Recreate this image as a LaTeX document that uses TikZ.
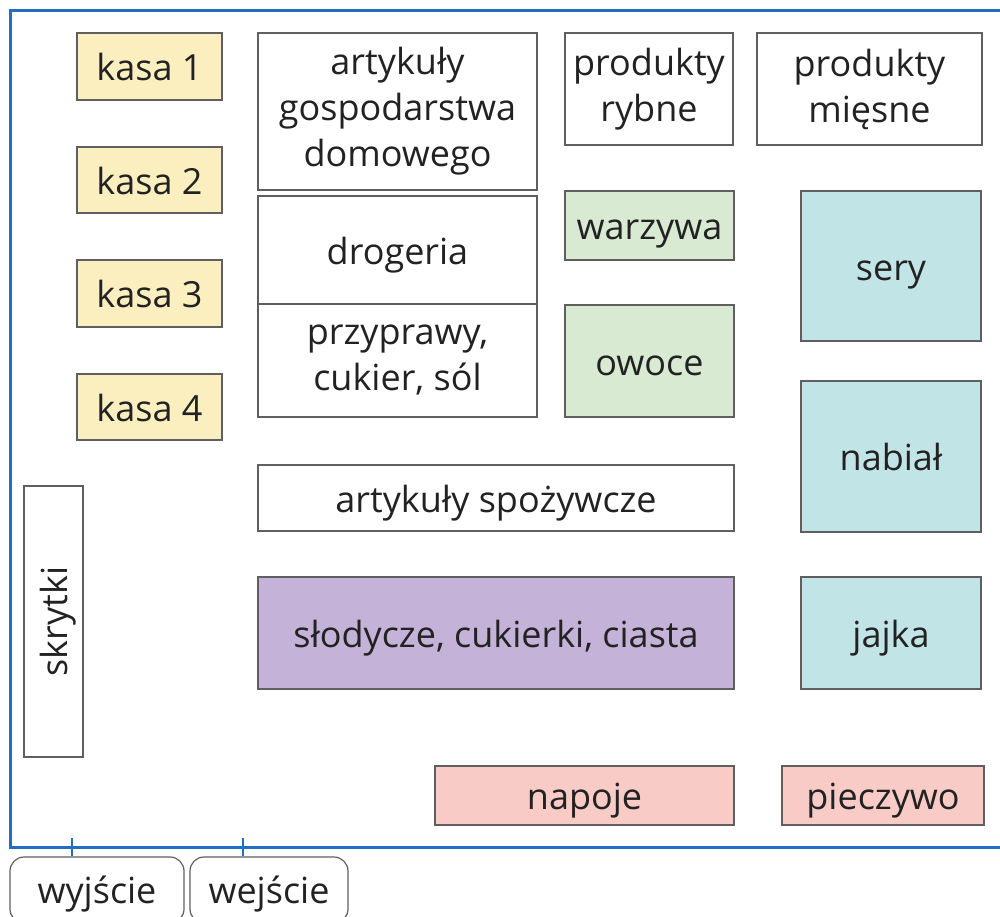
\documentclass[tikz,border=0pt]{standalone}
\usepackage{fontspec}
\setmainfont{Open Sans}
\usepackage{tikz}
\usetikzlibrary{positioning, calc}
\definecolor{kasafill}{HTML}{FCEFBF}
\definecolor{zielfill}{HTML}{D9EAD3}
\definecolor{nabfill}{HTML}{C1E4E6}
\definecolor{slodfill}{HTML}{C4B2D8}
\definecolor{napfill}{HTML}{F8CBC6}
\definecolor{ramka}{HTML}{5F5F5F}
\definecolor{sciana}{HTML}{1F6FC5}
\definecolor{tekst}{HTML}{222222}
\tikzset{
  pole/.style={rectangle, draw=ramka, line width=1.2pt, inner sep=0pt,
               align=center, text=tekst,
               font=\fontsize{36}{46}\selectfont},
  stoisko/.style={pole, text height=28pt, text depth=0pt},
  kasa/.style={stoisko, fill=kasafill},
  ziel/.style={stoisko, fill=zielfill},
  nab/.style={stoisko, fill=nabfill},
  slod/.style={stoisko, fill=slodfill},
  nap/.style={stoisko, fill=napfill},
  drzwi/.style={pole, rounded corners=14pt, text height=26pt, text depth=0pt},
  mur/.style={draw=sciana, line width=3pt},
}
\begin{document}
\begin{tikzpicture}[x=1pt, y=-1pt]
  \useasboundingbox (0,0) rectangle (1000,916);
  % kasy
  \node[kasa, minimum width=145, minimum height=67] (kasa1) at (149.5,66.5) {kasa 1};
  \node[kasa, minimum width=145, minimum height=66] (kasa2) at (149.5,180) {kasa 2};
  \node[kasa, minimum width=145, minimum height=67] (kasa3) at (149.5,293.5) {kasa 3};
  \node[kasa, minimum width=145, minimum height=66] (kasa4) at (149.5,407) {kasa 4};
  \node[stoisko, minimum width=271, minimum height=59, rotate=90] (skrytki) at (53.5,621.5) {skrytki};
  % srodek sklepu
  \node[pole, minimum width=279, minimum height=157] (agd) at (397.5,111.5) {artykuły\\gospodarstwa\\domowego};
  \node[stoisko, minimum width=279, minimum height=108] (drogeria) at (397.5,250) {drogeria};
  \node[pole, minimum width=279, minimum height=113] (przyprawy) at (397.5,360.5) {przyprawy,\\cukier, sól};
  \node[pole, minimum width=168, minimum height=112] (ryby) at (649,89) {produkty\\rybne};
  \node[pole, minimum width=225, minimum height=112] (mieso) at (869.5,89) {produkty\\mięsne};
  \node[ziel, minimum width=169, minimum height=69] (warzywa) at (649.5,225.5) {warzywa};
  \node[ziel, minimum width=169, minimum height=112] (owoce) at (649.5,361) {owoce};
  \node[nab, minimum width=180, minimum height=150] (sery) at (891,266) {sery};
  \node[nab, minimum width=180, minimum height=151] (nabial) at (891,456.5) {nabiał};
  \node[nab, minimum width=180, minimum height=112] (jajka) at (891,633) {jajka};
  \node[stoisko, minimum width=476, minimum height=66] (spozywcze) at (496,498) {artykuły spożywcze};
  \node[slod, minimum width=476, minimum height=112] (slodycze) at (496,633) {słodycze, cukierki, ciasta};
  \node[nap, minimum width=299, minimum height=59] (napoje) at (584.5,795.5) {napoje};
  \node[nap, minimum width=202, minimum height=59] (pieczywo) at (883,795.5) {pieczywo};
  % sciany i wejscia
  \draw[mur] (1000,10) -- (10,10) -- (10,847) -- (1000,847);
  \node[drzwi, minimum width=174, minimum height=66] (wyjscie) at (97,890) {wyjście};
  \node[drzwi, minimum width=158, minimum height=66] (wejscie) at (269,890) {wejście};
  \coordinate (tw) at (72,838);
  \coordinate (te) at (243,838);
  \draw[mur, line width=2pt] (tw) -- (tw |- wyjscie.north);
  \draw[mur, line width=2pt] (te) -- (te |- wejscie.north);
\end{tikzpicture}
\end{document}
